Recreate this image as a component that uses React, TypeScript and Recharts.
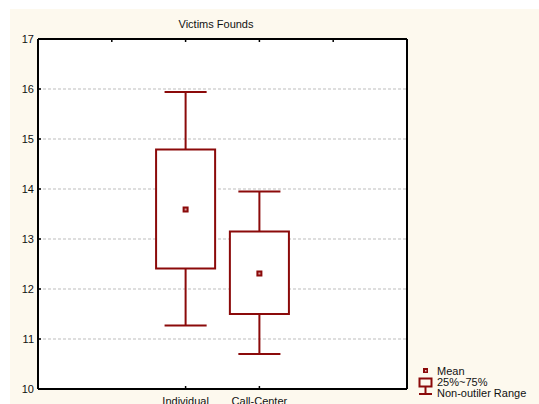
import {
  ComposedChart,
  XAxis,
  YAxis,
  CartesianGrid,
  ReferenceArea,
  ReferenceLine,
  Scatter,
} from "recharts";

const RED = "#8b0a0a";
const CREAM = "#fdf9ee";
const FONT = '"Liberation Sans", Arial, sans-serif';

// box plot summary per group
const GROUPS = ["Individual", "Call-Center"];
const GROUP_POS = [2, 3];
const LOW = [11.27, 10.7];
const Q1 = [12.41, 11.5];
const Q3 = [14.79, 13.15];
const HIGH = [15.94, 13.95];
const MEAN = [13.59, 12.31];

const Y_TICKS = [10, 11, 12, 13, 14, 15, 16, 17];
const TOP_TICKS = [0, 1, 2, 3, 4, 5];

const BOX_HALF = 0.4;
const CAP_HALF = 0.285;

const meanData = GROUP_POS.map((x, i) => ({ x, y: MEAN[i] }));

const MeanMark = (props: any) => {
  const { cx, cy } = props;
  return (
    <g>
      <rect x={cx - 3} y={cy - 3} width={6} height={6} fill={RED} />
      <rect x={cx - 1} y={cy - 1} width={2} height={2} fill="#d89a9a" />
    </g>
  );
};

// nothing drawn; only ties the frame axes to data so they render
const NoMark = () => <g />;

function Legend() {
  return (
    <>
      <svg
        width={20}
        height={34}
        style={{ position: "absolute", left: 416, top: 365 }}
      >
        <rect x={7} y={3} width={5} height={5} fill={RED} />
        <rect x={9} y={5} width={1.5} height={1.5} fill="#f0c8c8" />
        <rect x={3.5} y={13.5} width={12} height={8} fill="none" stroke={RED} strokeWidth={2} />
        <line x1={9.5} y1={22} x2={9.5} y2={29} stroke={RED} strokeWidth={2} />
        <line x1={3} y1={29} x2={16} y2={29} stroke={RED} strokeWidth={2} />
      </svg>
      <div
        style={{
          position: "absolute",
          left: 437,
          top: 366,
          fontSize: 11,
          lineHeight: "11px",
          color: "#111",
          whiteSpace: "nowrap",
        }}
      >
        <div>Mean</div>
        <div>25%~75%</div>
        <div>Non-outiler Range</div>
      </div>
    </>
  );
}

export default function App() {
  return (
    <div
      style={{
        position: "absolute",
        left: 0,
        top: 0,
        width: 539,
        height: 404,
        background: "#fff",
        overflow: "hidden",
        fontFamily: FONT,
      }}
    >
      <div
        style={{
          position: "absolute",
          left: 10,
          top: 9,
          right: 0,
          bottom: 0,
          background: CREAM,
        }}
      />
      <div
        style={{
          position: "absolute",
          left: 166,
          top: 18,
          width: 100,
          textAlign: "center",
          fontSize: 11,
          color: "#111",
        }}
      >
        Victims Founds
      </div>
      <div style={{ position: "absolute", left: 0, top: 0 }}>
        <ComposedChart
          width={539}
          height={404}
          margin={{ top: 38, right: 131, bottom: 0, left: 10 }}
        >
          <CartesianGrid
            vertical={false}
            fill="#ffffff"
            fillOpacity={1}
            stroke="#bdbdbd"
            strokeDasharray="3 2"
          />
          <XAxis
            type="number"
            dataKey="x"
            domain={[0, 5]}
            ticks={GROUP_POS}
            interval={0}
            tickFormatter={(v: number) => GROUPS[GROUP_POS.indexOf(v)] ?? ""}
            height={15}
            tickSize={-3}
            tickMargin={11}
            axisLine={{ stroke: "#000", strokeWidth: 2 }}
            tickLine={{ stroke: "#000", strokeWidth: 1.5 }}
            tick={{ fill: "#111", fontSize: 11 }}
          />
          <XAxis
            xAxisId="top"
            orientation="top"
            type="number"
            dataKey="x"
            domain={[0, 5]}
            ticks={TOP_TICKS}
            interval={0}
            tickFormatter={() => ""}
            height={1}
            tickSize={-3}
            axisLine={{ stroke: "#000", strokeWidth: 2 }}
            tickLine={{ stroke: "#000", strokeWidth: 1.5 }}
          />
          <YAxis
            type="number"
            domain={[10, 17]}
            ticks={Y_TICKS}
            interval={0}
            width={28}
            tickSize={-3}
            tickMargin={7}
            axisLine={{ stroke: "#000", strokeWidth: 2 }}
            tickLine={{ stroke: "#000", strokeWidth: 1.5 }}
            tick={{ fill: "#111", fontSize: 11 }}
          />
          <YAxis
            yAxisId="right"
            orientation="right"
            type="number"
            domain={[10, 17]}
            width={1}
            tick={false}
            tickLine={false}
            axisLine={{ stroke: "#000", strokeWidth: 2 }}
          />

          {GROUP_POS.map((x, i) => (
            <ReferenceLine
              key={`wu-${i}`}
              segment={[
                { x, y: Q3[i] },
                { x, y: HIGH[i] },
              ]}
              stroke={RED}
              strokeWidth={2}
            />
          ))}
          {GROUP_POS.map((x, i) => (
            <ReferenceLine
              key={`wl-${i}`}
              segment={[
                { x, y: LOW[i] },
                { x, y: Q1[i] },
              ]}
              stroke={RED}
              strokeWidth={2}
            />
          ))}
          {GROUP_POS.map((x, i) => (
            <ReferenceLine
              key={`cu-${i}`}
              segment={[
                { x: x - CAP_HALF, y: HIGH[i] },
                { x: x + CAP_HALF, y: HIGH[i] },
              ]}
              stroke={RED}
              strokeWidth={2}
            />
          ))}
          {GROUP_POS.map((x, i) => (
            <ReferenceLine
              key={`cl-${i}`}
              segment={[
                { x: x - CAP_HALF, y: LOW[i] },
                { x: x + CAP_HALF, y: LOW[i] },
              ]}
              stroke={RED}
              strokeWidth={2}
            />
          ))}
          {GROUP_POS.map((x, i) => (
            <ReferenceArea
              key={`box-${i}`}
              x1={x - BOX_HALF}
              x2={x + BOX_HALF}
              y1={Q1[i]}
              y2={Q3[i]}
              fill="#ffffff"
              fillOpacity={1}
              stroke={RED}
              strokeWidth={2}
            />
          ))}
          <Scatter
            data={meanData}
            dataKey="y"
            xAxisId="top"
            yAxisId="right"
            shape={NoMark}
            isAnimationActive={false}
          />
          <Scatter
            data={meanData}
            dataKey="y"
            shape={MeanMark}
            isAnimationActive={false}
          />
        </ComposedChart>
      </div>
      <Legend />
    </div>
  );
}
